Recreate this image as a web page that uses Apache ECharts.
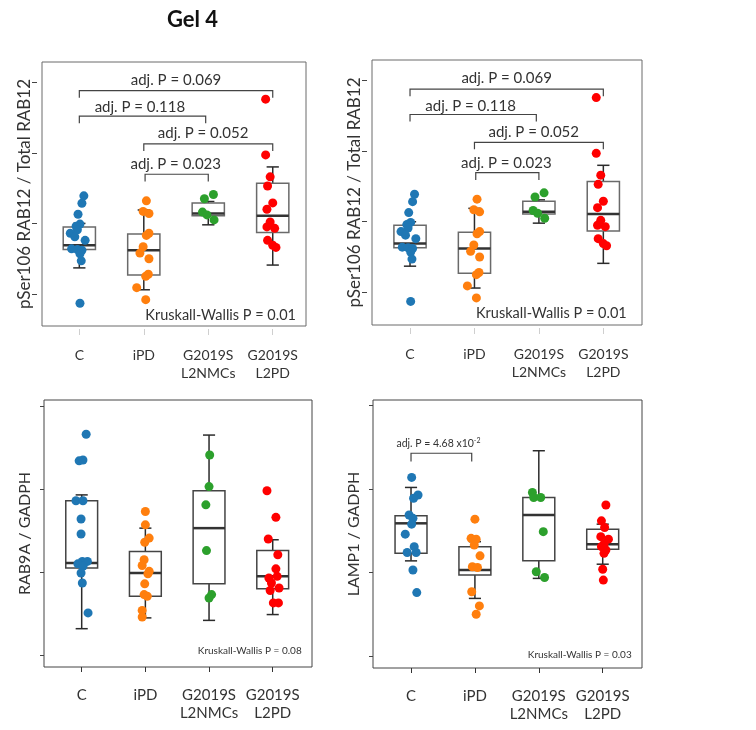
<!DOCTYPE html>
<html>
<head>
<meta charset="utf-8">
<title>Gel 4</title>
<script src="https://cdn.jsdelivr.net/npm/echarts@6.0.0/dist/echarts.min.js"></script>
<style>
  html, body { margin: 0; padding: 0; background: #fff; }
  #chart { width: 756px; height: 730px; }
</style>
</head>
<body>
<div id="chart"></div>
<script>
const FONT = 'Lato, "Open Sans", sans-serif';

const groups = ['C', 'iPD', 'G2019S\nL2NMCs', 'G2019S\nL2PD'];
const groupColors = ['#1f77b4', '#ff7f0e', '#2ca02c', '#ff0000'];
const xTicks = [0, 1, 2, 3];
const yTicks = [0, 1, 2, 3];

// points: [jitter around group, value]
const rab12C = [[0.07, 1.39], [0.04, 1.285], [-0.02, 1.13], [0.01, 0.99], [-0.05, 0.96], [-0.03, 0.91], [-0.14, 0.86], [-0.07, 0.81], [0.09, 0.76], [-0.12, 0.64], [-0.03, 0.63], [0.04, 0.62], [0.01, 0.57], [0.03, 0.47], [0.01, -0.13]];
const rab12IPD = [[0.04, 1.32], [-0.01, 1.17], [0.08, 1.14], [0.08, 0.86], [0.04, 0.83], [-0.01, 0.67], [-0.06, 0.58], [0.08, 0.5], [0.07, 0.28], [0.03, 0.25], [-0.11, 0.09], [0.03, -0.08]];
const rab12NMC = [[0.08, 1.41], [-0.06, 1.35], [-0.09, 1.16], [-0.02, 1.12], [0.09, 1.05]];
const rab12PD = [[-0.11, 2.76], [-0.11, 1.97], [-0.04, 1.66], [-0.08, 1.53], [0.0, 1.29], [-0.09, 1.2], [-0.04, 1.02], [-0.09, 0.95], [0.03, 0.93], [-0.08, 0.76], [0.0, 0.69], [0.05, 0.66]];
// box stats: [whisker low, q1, median, q3, whisker high]
const rab12Box = [[0.37, 0.63, 0.69, 0.95, 1.0], [0.06, 0.27, 0.62, 0.85, 1.19], [0.98, 1.11, 1.14, 1.29, 1.31], [0.41, 0.87, 1.11, 1.57, 1.8]];
// brackets: [from, to, bar, drop, label x, label y]
const rab12Brackets = [[0, 3, 2.88, 2.78, 1.5, 3.03], [0, 1.96, 2.52, 2.42, 0.94, 2.645], [1, 3, 2.126, 2.026, 1.92, 2.277], [1.02, 2, 1.696, 1.592, 1.495, 1.837]];
const rab12Labels = ['adj. P = 0.069', 'adj. P = 0.118', 'adj. P = 0.052', 'adj. P = 0.023'];

const rab9C = [[0.07, 2.66], [-0.04, 2.34], [0.02, 2.35], [-0.09, 1.86], [0.02, 1.86], [-0.01, 1.64], [-0.01, 1.46], [0.01, 1.13], [0.09, 1.13], [-0.06, 1.1], [0.02, 1.07], [-0.01, 0.99], [0.01, 0.87], [0.1, 0.51]];
const rab9IPD = [[0.0, 1.73], [0.0, 1.57], [0.06, 1.41], [-0.01, 1.36], [-0.02, 1.15], [-0.05, 1.08], [0.06, 1.01], [0.04, 0.98], [-0.01, 0.86], [-0.02, 0.73], [0.03, 0.71], [-0.05, 0.54], [-0.05, 0.46]];
const rab9NMC = [[0.01, 2.41], [0.0, 2.03], [-0.05, 1.81], [-0.04, 1.26], [0.04, 0.73], [0.0, 0.69]];
const rab9PD = [[-0.09, 1.98], [0.05, 1.66], [-0.07, 1.4], [0.08, 1.21], [0.05, 1.04], [-0.06, 0.93], [0.07, 0.95], [-0.02, 0.87], [-0.04, 0.78], [0.1, 0.81], [0.01, 0.63], [0.09, 0.63]];
const rab9Box = [[0.32, 1.05, 1.11, 1.86, 1.93], [0.45, 0.71, 0.99, 1.25, 1.53], [0.42, 0.86, 1.53, 1.98, 2.65], [0.49, 0.8, 0.95, 1.26, 1.39]];

const lampC = [[0.01, 2.14], [0.11, 1.93], [0.04, 1.89], [-0.03, 1.69], [0.03, 1.65], [0.01, 1.58], [-0.09, 1.46], [0.05, 1.31], [0.08, 1.24], [-0.06, 1.24], [0.03, 1.03], [0.09, 0.76]];
const lampIPD = [[0.0, 1.64], [-0.06, 1.41], [0.02, 1.4], [-0.01, 1.33], [0.08, 1.2], [-0.04, 1.07], [0.04, 1.06], [-0.05, 0.77], [0.07, 0.6], [0.02, 0.5]];
const lampNMC = [[-0.1, 1.96], [-0.08, 1.9], [0.03, 1.9], [0.07, 1.49], [-0.04, 1.01], [0.09, 0.94]];
const lampPD = [[0.05, 1.81], [-0.02, 1.62], [0.03, 1.54], [-0.03, 1.43], [0.09, 1.4], [0.02, 1.34], [-0.02, 1.31], [0.05, 1.27], [0.02, 1.23], [0.0, 1.04], [0.01, 0.91]];
const lampBox = [[1.14, 1.23, 1.59, 1.68, 2.02], [0.69, 0.97, 1.03, 1.31, 1.37], [0.93, 1.14, 1.69, 1.9, 2.46], [1.1, 1.28, 1.34, 1.52, 1.58]];
const lampBrackets = [[0, 0.95, 2.43, 2.33, 0.43, 2.55]];
const lampLabels = ['{t|adj. P = 4.68 x10}{s|-2}'];

const panels = [
  { grid: { left: 42, top: 62, width: 264, height: 264 }, x: [-0.579, 3.516], y: [-0.453, 3.286],
    yName: 'pSer106 RAB12 / Total RAB12', points: [rab12C, rab12IPD, rab12NMC, rab12PD], box: rab12Box,
    brackets: rab12Brackets, labels: rab12Labels, kw: 'Kruskall-Wallis P = 0.01', kwAt: [296, 315.7], top: true },
  { grid: { left: 372, top: 60, width: 270, height: 265 }, x: [-0.59, 3.6], y: [-0.464, 3.293],
    yName: 'pSer106 RAB12 / Total RAB12', points: [rab12C, rab12IPD, rab12NMC, rab12PD], box: rab12Box,
    brackets: rab12Brackets, labels: rab12Labels, kw: 'Kruskall-Wallis P = 0.01', kwAt: [626.7, 313.3], top: true },
  { grid: { left: 44, top: 400, width: 268, height: 267 }, x: [-0.592, 3.617], y: [-0.141, 3.072],
    yName: 'RAB9A / GADPH', points: [rab9C, rab9IPD, rab9NMC, rab9PD], box: rab9Box,
    brackets: [], labels: [], kw: 'Kruskall-Wallis P = 0.08', kwAt: [301.7, 650.7], top: false },
  { grid: { left: 373, top: 400, width: 269, height: 268 }, x: [-0.595, 3.615], y: [-0.144, 3.068],
    yName: 'LAMP1 / GADPH', points: [lampC, lampIPD, lampNMC, lampPD], box: lampBox,
    brackets: lampBrackets, labels: lampLabels, kw: 'Kruskall-Wallis P = 0.03', kwAt: [631.7, 654.3], top: false },
];

function boxRender(top) {
  const boxColor = top ? '#6a6a6a' : '#444';
  return function (params, api) {
    const g = api.value(0);
    const lo = api.coord([g, api.value(1)]);
    const q1 = api.coord([g, api.value(2)]);
    const med = api.coord([g, api.value(3)]);
    const q3 = api.coord([g, api.value(4)]);
    const hi = api.coord([g, api.value(5)]);
    const half = api.size([0.5, 0])[0] / 2;
    const cap = api.size([0.19, 0])[0] / 2;
    const x = lo[0];
    const wl = { stroke: '#2b2b2b', lineWidth: 1.5 };
    return {
      type: 'group',
      children: [
        { type: 'line', shape: { x1: x, y1: hi[1], x2: x, y2: q3[1] }, style: wl },
        { type: 'line', shape: { x1: x, y1: q1[1], x2: x, y2: lo[1] }, style: wl },
        { type: 'line', shape: { x1: x - cap, y1: hi[1], x2: x + cap, y2: hi[1] }, style: wl },
        { type: 'line', shape: { x1: x - cap, y1: lo[1], x2: x + cap, y2: lo[1] }, style: wl },
        { type: 'rect', shape: { x: x - half, y: q3[1], width: half * 2, height: q1[1] - q3[1] },
          style: { fill: 'rgba(255,255,255,0)', stroke: boxColor, lineWidth: 1.5 } },
        { type: 'line', shape: { x1: x - half, y1: med[1], x2: x + half, y2: med[1] },
          style: { stroke: '#333', lineWidth: 2.5 } },
      ],
    };
  };
}

function bracketRender(labels, top) {
  return function (params, api) {
    const a = api.coord([api.value(0), api.value(3)]);
    const b = api.coord([api.value(0), api.value(2)]);
    const c = api.coord([api.value(1), api.value(2)]);
    const d = api.coord([api.value(1), api.value(3)]);
    const t = api.coord([api.value(4), api.value(5)]);
    return {
      type: 'group',
      children: [
        { type: 'polyline', shape: { points: [a, b, c, d] }, style: { stroke: '#444', lineWidth: 1.2, fill: null } },
        { type: 'text', x: t[0], y: t[1],
          style: {
            text: labels[params.dataIndex], fill: '#333', fontFamily: FONT, fontSize: top ? 15 : 10.5,
            align: 'center', verticalAlign: 'middle',
            rich: {
              t: { fontFamily: FONT, fontSize: 10.5, fill: '#333' },
              s: { fontFamily: FONT, fontSize: 7, fill: '#333', verticalAlign: 'top' },
            },
          } },
      ],
    };
  };
}

const grid = [], xAxis = [], yAxis = [], series = [];
const graphic = [{ type: 'text', x: 192.5, y: 20,
  style: { text: 'Gel 4', fontFamily: FONT, fontWeight: 'bold', fontSize: 22, fill: '#111', align: 'center', verticalAlign: 'middle' } }];

panels.forEach((p, i) => {
  grid.push(Object.assign({ show: true, borderColor: p.top ? '#6a6a6a' : '#444', borderWidth: 1, backgroundColor: 'transparent' }, p.grid));
  xAxis.push({
    type: 'value', gridIndex: i, min: p.x[0], max: p.x[1], offset: p.top ? 3 : 0, position: 'bottom',
    axisLine: { show: false, onZero: false }, splitLine: { show: false },
    axisTick: { show: true, customValues: xTicks, length: p.top ? 6 : 5, lineStyle: { color: p.top ? '#cfcfcf' : '#333' } },
    axisLabel: { customValues: xTicks, formatter: (v) => groups[Math.round(v)], fontFamily: FONT,
      fontSize: p.top ? 14 : 15, lineHeight: 18, color: '#333', margin: p.top ? 17 : 19 },
  });
  yAxis.push({
    type: 'value', gridIndex: i, min: p.y[0], max: p.y[1], offset: p.top ? 5 : 0, position: 'left',
    axisLine: { show: false, onZero: false }, splitLine: { show: false }, axisLabel: { show: false },
    axisTick: { show: true, customValues: yTicks, length: p.top ? 5 : 4, lineStyle: { color: '#444' } },
    name: p.yName, nameLocation: 'middle', nameRotate: 90, nameGap: p.top ? 4 : 11,
    nameTextStyle: { fontFamily: FONT, fontSize: p.top ? 17 : 16, color: '#333' },
  });
  series.push({
    type: 'custom', xAxisIndex: i, yAxisIndex: i, z: 2, silent: true,
    renderItem: boxRender(p.top),
    data: p.box.map((b, g) => [g].concat(b)),
    encode: { x: 0, y: [1, 2, 3, 4, 5] },
  });
  p.points.forEach((pts, g) => {
    series.push({
      type: 'scatter', xAxisIndex: i, yAxisIndex: i, z: 3, silent: true,
      symbolSize: 9, itemStyle: { color: groupColors[g], opacity: 1 },
      data: pts.map(([dx, v]) => [g + dx, v]),
    });
  });
  if (p.brackets.length) {
    series.push({
      type: 'custom', xAxisIndex: i, yAxisIndex: i, z: 2, silent: true,
      renderItem: bracketRender(p.labels, p.top),
      data: p.brackets,
      encode: { x: [0, 1], y: [2, 3] },
    });
  }
  graphic.push({ type: 'text', x: p.kwAt[0], y: p.kwAt[1],
    style: { text: p.kw, fontFamily: FONT, fontSize: p.top ? 14.5 : 10, fill: '#333', align: 'right', verticalAlign: 'middle' } });
});

const chart = echarts.init(document.getElementById('chart'), null, { renderer: 'canvas' });
chart.setOption({
  animation: false,
  backgroundColor: '#fff',
  grid, xAxis, yAxis, series, graphic,
});
</script>
</body>
</html>
